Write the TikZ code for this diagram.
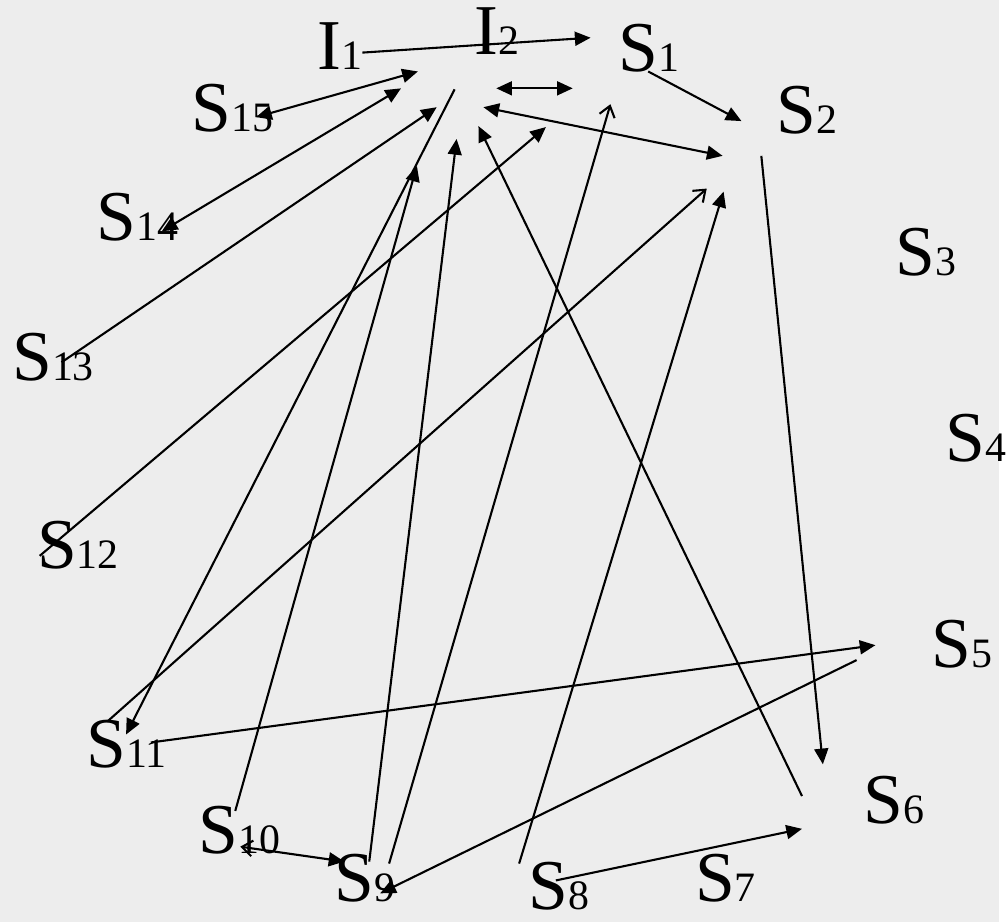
\documentclass[tikz,border=0pt]{standalone}
\usepackage{fontspec}
\setmainfont{Liberation Serif}
\newfontfamily\statefont{Liberation Serif}
\usetikzlibrary{arrows.meta}
\definecolor{paper}{RGB}{237,237,237}
\newcommand\statelabel[2]{#1{\fontsize{24}{24}\selectfont #2}}

\begin{document}
\begin{tikzpicture}[x=0.02cm,y=-0.02cm,
  state/.style={anchor=base west,inner sep=0pt,font=\statefont\fontsize{41}{41}\selectfont},
  link/.style={line width=1.2pt,-{Triangle[length=9pt,width=8pt]}},
  twoway/.style={line width=1.2pt,{Triangle[length=9pt,width=8pt]}-{Triangle[length=9pt,width=8pt]}},
  openlink/.style={line width=1.2pt,-{Straight Barb[length=6pt,width=9pt]}}]

  \fill[paper] (0,0) rectangle (1006,929);

  % states
  \foreach \id/\letter/\num/\px/\py in {i1/I/1/320/70, i2/I/2/478/55,
      s1/S/1/623/72, s2/S/2/782/135, s3/S/3/902/278, s4/S/4/952/465,
      s5/S/5/938/672, s6/S/6/870/830, s7/S/7/700/908, s8/S/8/532/916,
      s9/S/9/337/908, s10/S/10/200/860, s11/S/11/87/773, s12/S/12/37/573,
      s13/S/13/12/383, s14/S/14/97/242, s15/S/15/193/132}
    \node[state] (\id) at (\px,\py) {\statelabel{\letter}{\num}};

  % free ends of the connectors
  \coordinate (i1 out) at (365,53);   \coordinate (s1 in) at (595,38);
  \coordinate (s15 end) at (258,118); \coordinate (i2 a) at (421,72);
  \coordinate (s14 end) at (163,233); \coordinate (i2 b) at (404,89);
  \coordinate (s13 out) at (62,365);  \coordinate (i2 c) at (440,108);
  \coordinate (s12 out) at (40,560);  \coordinate (i2 d) at (550,128);
  \coordinate (i2 out) at (458,90);   \coordinate (s11 in) at (127,740);
  \coordinate (s11 up) at (108,727);  \coordinate (s2 a) at (712,190);
  \coordinate (s10 up) at (237,817);  \coordinate (i2 e) at (420,167);
  \coordinate (s9 a) at (372,868);    \coordinate (i2 f) at (460,140);
  \coordinate (s9 b) at (392,870);    \coordinate (s1 a) at (615,105);
  \coordinate (s6 up) at (808,802);   \coordinate (i2 g) at (482,127);
  \coordinate (i2 h) at (487,108);    \coordinate (s2 b) at (728,157);
  \coordinate (i2 i) at (500,89);     \coordinate (s1 b) at (577,89);
  \coordinate (s1 out) at (653,72);   \coordinate (s2 in) at (747,122);
  \coordinate (s2 out) at (767,157);  \coordinate (s6 in) at (829,770);
  \coordinate (s11 out) at (152,748); \coordinate (s5 in) at (882,650);
  \coordinate (s5 out) at (863,665);  \coordinate (s9 in) at (383,900);
  \coordinate (s10 end) at (242,853); \coordinate (s9 end) at (347,868);
  \coordinate (s8 out) at (560,887);  \coordinate (s6 b) at (808,835);
  \coordinate (s8 up) at (523,870);   \coordinate (s2 c) at (729,193);

  % connectors
  \draw[link] (i1 out) -- (s1 in);
  \draw[twoway] (s15 end) -- (i2 a);
  \draw[twoway] (s14 end) -- (i2 b);
  \draw[link] (s13 out) -- (i2 c);
  \draw[link] (s12 out) -- (i2 d);
  \draw[link] (i2 out) -- (s11 in);
  \draw[openlink] (s11 up) -- (s2 a);
  \draw[link] (s10 up) -- (i2 e);
  \draw[link] (s9 a) -- (i2 f);
  \draw[openlink] (s9 b) -- (s1 a);
  \draw[link] (s6 up) -- (i2 g);
  \draw[twoway] (i2 h) -- (s2 b);
  \draw[twoway] (i2 i) -- (s1 b);
  \draw[link] (s1 out) -- (s2 in);
  \draw[link] (s2 out) -- (s6 in);
  \draw[link] (s11 out) -- (s5 in);
  \draw[link] (s5 out) -- (s9 in);
  \draw[line width=1.2pt,{Straight Barb[length=6pt,width=9pt]}-{Triangle[length=9pt,width=8pt]}] (s10 end) -- (s9 end);
  \draw[link] (s8 out) -- (s6 b);
  \draw[link] (s8 up) -- (s2 c);
\end{tikzpicture}
\end{document}
